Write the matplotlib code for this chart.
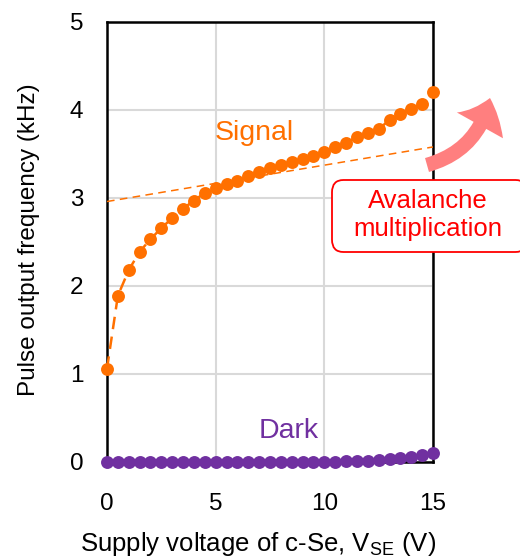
import matplotlib
matplotlib.use("Agg")
import matplotlib.pyplot as plt
from matplotlib.patches import FancyArrowPatch, FancyBboxPatch

plt.rcParams['font.family'] = ['Liberation Sans', 'DejaVu Sans']

voltage = [0.0, 0.5, 1.0, 1.5, 2.0, 2.5, 3.0, 3.5, 4.0, 4.5, 5.0, 5.5, 6.0, 6.5, 7.0, 7.5,
           8.0, 8.5, 9.0, 9.5, 10.0, 10.5, 11.0, 11.5, 12.0, 12.5, 13.0, 13.5, 14.0, 14.5, 15.0]
signal = [1.06, 1.89, 2.18, 2.39, 2.53, 2.66, 2.77, 2.88, 2.97, 3.06, 3.11, 3.16, 3.19, 3.25,
          3.30, 3.34, 3.38, 3.41, 3.44, 3.48, 3.52, 3.58, 3.63, 3.69, 3.74, 3.78, 3.89, 3.95,
          4.01, 4.07, 4.20]
dark = [0.0, 0.0, 0.0, 0.0, 0.0, 0.0, 0.0, 0.0, 0.0, 0.0, 0.0, 0.0, 0.0, 0.0, 0.0, 0.0,
        0.0, 0.0, 0.0, 0.0, 0.0, 0.005, 0.01, 0.012, 0.015, 0.02, 0.03, 0.04, 0.055, 0.075, 0.10]
fit_x = [0.0, 15.0]
fit_y = [2.96, 3.58]

orange = '#FF7000'
purple = '#7030A0'
red = '#FF0000'

fig = plt.figure(figsize=(5.2, 5.58), dpi=100)
ax = fig.add_axes([107/520, 96/558, 326/520, 440/558])

ax.plot(fit_x, fit_y, color=orange, lw=1.1, ls=(0, (5, 3.5)), zorder=3)
ax.plot(voltage, signal, color=orange, lw=1.8, ls=(0, (5, 3)), marker='o', ms=9.3,
        markeredgewidth=0, clip_on=False, zorder=4)
ax.plot(voltage, dark, color=purple, lw=1.8, ls=(0, (5, 3)), marker='o', ms=9.3,
        markeredgewidth=0, clip_on=False, zorder=4)

ax.set_xlim(0, 15)
ax.set_ylim(0, 5)
ax.set_xticks([0, 5, 10, 15])
ax.set_yticks([0, 1, 2, 3, 4, 5])
ax.grid(True, color='#D9D9D9', lw=1.5)
ax.set_axisbelow(True)
for s in ax.spines.values():
    s.set_color('black')
    s.set_linewidth(1.8)
ax.tick_params(length=0, labelsize=17.5)
ax.tick_params(axis='x', pad=22)
ax.tick_params(axis='y', pad=17)

fig.text(258/520, 1 - 551/558, 'Supply voltage of c-Se, V$_{\\mathregular{SE}}$ (V)',
         fontsize=18.5, ha='center', va='baseline')
fig.text(29/520, 1 - 240/558, 'Pulse output frequency (kHz)', fontsize=17.5,
         rotation=90, ha='center', va='center')

ax.text(6.76, 3.74, 'Signal', color=orange, fontsize=20.5, ha='center', va='center')
ax.text(8.38, 0.35, 'Dark', color=purple, fontsize=20.5, ha='center', va='center')

# Avalanche box (figure coords)
box = FancyBboxPatch((332/520, 1 - 252/558), 195/520, 72/558,
                     boxstyle='round,pad=0,rounding_size=0.022',
                     transform=fig.transFigure, fc='white', ec=red, lw=1.3, zorder=5)
fig.patches.append(box)
fig.text(428/520, 1 - 215/558, 'Avalanche\nmultiplication', color=red, fontsize=18.5,
         ha='center', va='center', linespacing=1.2, zorder=6)

arrow = FancyArrowPatch((427/520, 1 - 165/558), (490/520, 1 - 98/558),
                        connectionstyle='arc3,rad=0.3',
                        arrowstyle='simple,head_width=1.9,head_length=1.05,tail_width=0.52',
                        mutation_scale=20, shrinkA=0, shrinkB=0,
                        transform=fig.transFigure,
                        color='#FF7F7F', lw=0, zorder=4)
fig.patches.append(arrow)

fig.savefig('out.png', dpi=100)
